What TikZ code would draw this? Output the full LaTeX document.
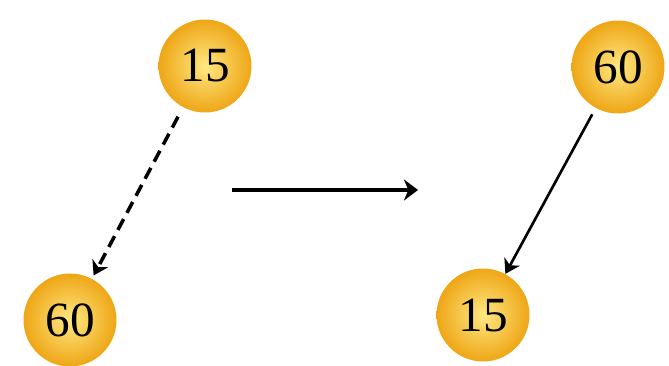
\documentclass[tikz,border=0pt]{standalone}
\usepackage{fontspec}
\setmainfont{Liberation Serif}
\usetikzlibrary{arrows.meta}
\definecolor{gold}{RGB}{238,166,22}
\definecolor{pale}{RGB}{255,232,130}

\begin{document}
\begin{tikzpicture}[x=0.02cm,y=-0.02cm,
    ball/.style={circle,minimum size=1.86cm,inner sep=0pt,inner color=pale,outer color=gold,
      font=\fontsize{28}{30}\selectfont},
    link/.style={-{Stealth[length=8pt,width=10pt,inset=2.5pt]},line width=1.5pt}]
  \useasboundingbox (0,0) rectangle (669,365);
  % before the rotation
  \node[ball] (p15) at (205,66) {15};
  \node[ball] (p60) at (70,320) {60};
  \draw[link,line width=2pt,dash pattern=on 7pt off 4pt,shorten <=6pt,shorten >=2pt] (p15) -- (p60);
  % after the rotation
  \node[ball] (q60) at (618,67) {60};
  \node[ball] (q15) at (483,315) {15};
  \draw[link,shorten <=4pt] (q60) -- (q15);
  % step between the two
  \coordinate (from) at (232,190);
  \coordinate (to) at (418,190);
  \draw[-{Stealth[length=8pt,width=12pt,inset=2.5pt]},line width=2pt] (from) -- (to);
\end{tikzpicture}
\end{document}
